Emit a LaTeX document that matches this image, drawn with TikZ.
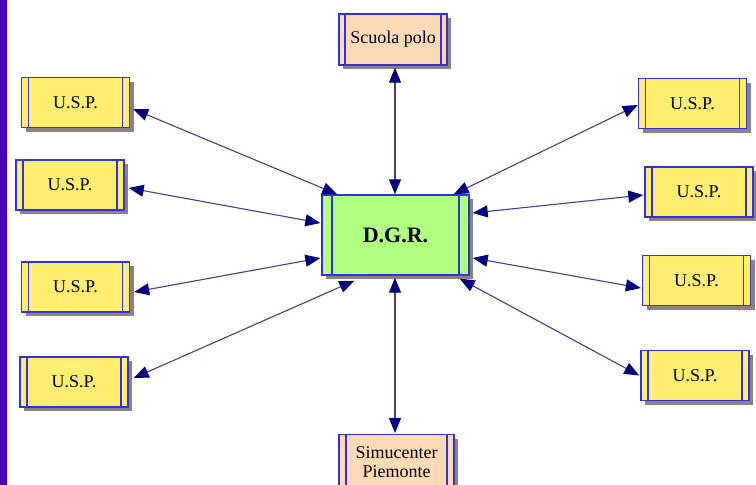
\documentclass[tikz,border=0pt]{standalone}
\usepackage{fontspec}
\setmainfont{Liberation Serif}
\usetikzlibrary{arrows.meta,shadows}
\definecolor{barc}{RGB}{72,0,180}
\definecolor{bordc}{RGB}{50,50,220}
\definecolor{yelc}{RGB}{255,238,112}
\definecolor{peachc}{RGB}{255,218,182}
\definecolor{greenc}{RGB}{176,255,128}
\definecolor{shadc}{RGB}{140,130,130}
\definecolor{linec}{RGB}{64,64,150}
\definecolor{headc}{RGB}{0,0,128}
\tikzset{
  box/.style={draw=bordc, line width=1.4pt, inner sep=0pt, align=center,
    font=\fontsize{18}{20}\selectfont,
    drop shadow={shadow xshift=4pt, shadow yshift=-4pt, fill=shadc, opacity=1}},
  sidestrip/.style={path picture={
    \draw[bordc, line width=1.4pt] ([xshift=#1]path picture bounding box.north west) -- ([xshift=#1]path picture bounding box.south west);
    \draw[bordc, line width=1.4pt] ([xshift=-#1]path picture bounding box.north east) -- ([xshift=-#1]path picture bounding box.south east);}},
  usp/.style={box, fill=yelc, minimum width=108pt, minimum height=50pt, sidestrip=7pt},
  conn/.style={draw=linec, line width=1.1pt,
    {Triangle[length=15pt,width=12pt,fill=headc,color=headc]}-{Triangle[length=15pt,width=12pt,fill=headc,color=headc]}}
}
\begin{document}
\begin{tikzpicture}[x=1pt,y=-1pt]
\useasboundingbox (0,0) rectangle (756,485);
\clip (0,0) rectangle (756,485);
\fill[white] (0,0) rectangle (756,485);
\fill[barc] (0,0) rectangle (7,485);
% boxes
\node[usp] (l1) at (75.5,102.5) {U.S.P.};
\node[usp] (l2) at (70,185) {U.S.P.};
\node[usp] (l3) at (75.5,287) {U.S.P.};
\node[usp] (l4) at (74,382) {U.S.P.};
\node[usp] (r1) at (692.5,103.5) {U.S.P.};
\node[usp] (r2) at (699,192) {U.S.P.};
\node[usp] (r3) at (696.5,280.5) {U.S.P.};
\node[usp] (r4) at (695,375.5) {U.S.P.};
\node[box, fill=peachc, minimum width=108pt, minimum height=51pt, sidestrip=6pt] (sp) at (393,39.5) {Scuola polo};
\node[box, fill=greenc, minimum width=147pt, minimum height=80pt, sidestrip=10pt, font=\fontsize{22}{24}\selectfont\bfseries] (dgr) at (395.5,235) {D.G.R.};
\node[box, fill=peachc, minimum width=115pt, minimum height=62pt, sidestrip=7pt, anchor=north] (sim) at (396.5,434) {};
\node[font=\fontsize{18}{19}\selectfont, align=center, anchor=north, inner sep=0pt] (simt) at (sim.north) [yshift=-12pt] {Simucenter\\Piemonte};
% connectors
\draw[conn] ([xshift=3pt,yshift=-6.5pt]l1.east) -- ([xshift=16pt]dgr.north west);
\draw[conn] ([xshift=4pt,yshift=-3pt]l2.east) -- ([xshift=-1pt,yshift=12pt]dgr.west);
\draw[conn] ([xshift=4pt,yshift=-5pt]l3.east) -- ([xshift=-1pt,yshift=-23pt]dgr.west);
\draw[conn] ([xshift=5pt,yshift=4pt]l4.east) -- ([xshift=33pt,yshift=-5pt]dgr.south west);
\draw[conn] ([xshift=2pt,yshift=-2pt]sp.south) -- ([xshift=-0.5pt]dgr.north);
\draw[conn] ([xshift=-1.5pt,yshift=1pt]sim.north) -- ([xshift=-0.5pt,yshift=-2pt]dgr.south);
\draw[conn] ([yshift=-1.5pt]r1.west) -- ([xshift=-16pt]dgr.north east);
\draw[conn] ([xshift=-1pt,yshift=-3pt]r2.west) -- ([xshift=3pt,yshift=22pt]dgr.east);
\draw[conn] ([xshift=-1pt,yshift=-7.5pt]r3.west) -- ([xshift=3pt,yshift=-23pt]dgr.east);
\draw[conn] ([xshift=-1pt]r4.west) -- ([xshift=-10pt,yshift=-3pt]dgr.south east);
\end{tikzpicture}
\end{document}
